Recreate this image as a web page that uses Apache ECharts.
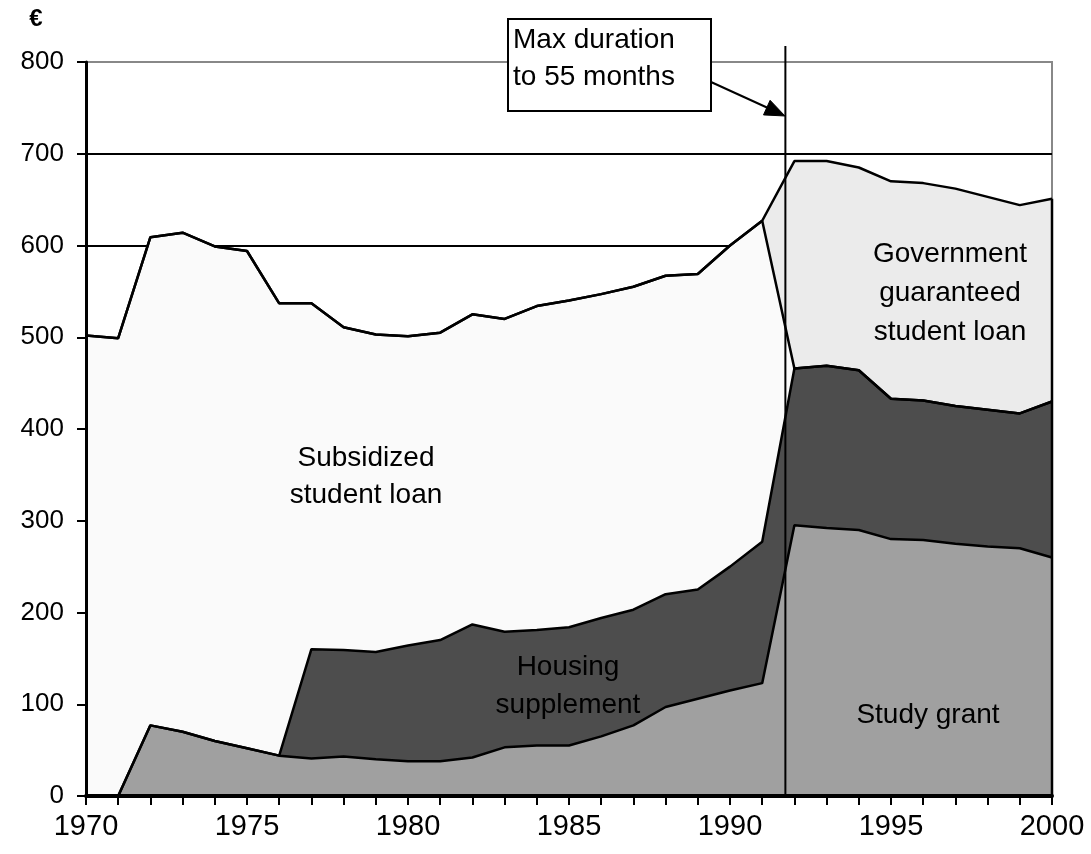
<!DOCTYPE html>
<html>
<head>
<meta charset="utf-8">
<script src="https://cdn.jsdelivr.net/npm/echarts@6/dist/echarts.min.js"></script>
<style>
html,body{margin:0;padding:0;background:#fff;}
#chart{width:1091px;height:854px;}
</style>
</head>
<body>
<div id="chart"></div>
<script>
// ---- Data (euros per month) ----
var years = [1970,1971,1972,1973,1974,1975,1976,1977,1978,1979,1980,1981,1982,1983,1984,1985,1986,1987,1988,1989,1990,1991,1992,1993,1994,1995,1996,1997,1998,1999,2000];
var studyGrant        = [0,0,77,70,60,52,44,41,43,40,38,38,42,53,55,55,65,77,97,106,115,123,295,292,290,280,279,275,272,270,260];
var housingSupplement = [0,0,0,0,0,0,0,119,116,117,126,132,145,126,126,129,129,126,123,119,135,154,171,177,174,153,152,150,149,147,170];
var subsidizedLoan    = [502,499,532,544,539,542,493,377,352,346,337,335,338,341,353,356,353,352,347,344,350,350,0,0,0,0,0,0,0,0,0];
var guaranteedLoan    = [0,0,0,0,0,0,0,0,0,0,0,0,0,0,0,0,0,0,0,0,0,0,226,223,221,237,237,237,232,227,221];
var yTicks = [0,100,200,300,400,500,600,700,800];
var policyChangeYear = 1991.72;

// cumulative tops (stack built from the component arrays, bottom to top)
var components = [studyGrant, housingSupplement, subsidizedLoan, guaranteedLoan];
var cumulative = [];
components.forEach(function(arr, k){
  cumulative.push(arr.map(function(v,i){ return v + (k>0 ? cumulative[k-1][i] : 0); }));
});
function pairs(vals){ return years.map(function(y,i){ return [y, vals[i]]; }); }
var lastIdx = years.length - 1;

var chart = echarts.init(document.getElementById('chart'));
var FONT = '"Liberation Sans", Arial, sans-serif';

function areaSeries(name, vals, color){
  return {
    name: name, type:'line', data: pairs(vals), yAxisIndex:0,
    symbol:'none', showSymbol:false, smooth:false,
    lineStyle:{color:'#000', width:2.5}, areaStyle:{color:color, opacity:1},
    itemStyle:{color:color}, silent:true, animation:false
  };
}

var splitColors = yTicks.map(function(v,i){ return i === yTicks.length-1 ? '#888' : '#000'; });

var option = {
  backgroundColor:'#fff',
  animation:false,
  grid:{left:86, right:39, top:62, bottom:58, show:true, borderColor:'#888', borderWidth:2, backgroundColor:'#fff'},
  xAxis:{
    type:'value', min:1970, max:2000, interval:5, z:10,
    axisLine:{show:true, onZero:false, lineStyle:{color:'#000', width:4}},
    axisTick:{show:true, length:9, lineStyle:{color:'#000', width:2}},
    minorTick:{show:true, splitNumber:5, length:9, lineStyle:{color:'#000', width:2}},
    splitLine:{show:false},
    axisLabel:{color:'#000', fontSize:29, fontFamily:FONT, margin:16, formatter:function(v){ return String(v); }}
  },
  yAxis:[{
    type:'value', min:0, max:800, interval:100, z:10, position:'left',
    axisLine:{show:true, onZero:false, lineStyle:{color:'#000', width:3}},
    axisTick:{show:true, length:9, lineStyle:{color:'#000', width:2}},
    splitLine:{show:false},
    axisLabel:{color:'#000', fontSize:26, fontFamily:FONT, margin:22}
  },{
    type:'value', min:0, max:800, interval:100, z:0, position:'left',
    axisLine:{show:false}, axisTick:{show:false}, axisLabel:{show:false},
    splitLine:{show:true, lineStyle:{color:splitColors, width:2}}
  }],
  // painted from the tallest stack level down so each opaque area covers the one below
  series:[
    areaSeries('Government guaranteed student loan', cumulative[3], '#ebebeb'),
    areaSeries('Subsidized student loan', cumulative[2], '#fafafa'),
    areaSeries('Housing supplement', cumulative[1], '#4d4d4d'),
    areaSeries('Study grant', cumulative[0], '#a0a0a0')
  ]
};
chart.setOption(option);

var xPolicy = chart.convertToPixel({xAxisIndex:0}, policyChangeYear);
var xEnd = chart.convertToPixel({xAxisIndex:0}, years[lastIdx]);
var yZero = chart.convertToPixel({yAxisIndex:0}, 0);
var yLastTop = chart.convertToPixel({yAxisIndex:0}, cumulative[3][lastIdx]);

chart.setOption({
  graphic:[
    {type:'line', shape:{x1:xPolicy, y1:46, x2:xPolicy, y2:yZero}, style:{stroke:'#000', lineWidth:2}, z:100},
    {type:'line', shape:{x1:xEnd, y1:yLastTop, x2:xEnd, y2:yZero}, style:{stroke:'#000', lineWidth:2.5}, z:100},
    {type:'text', x:36, y:19, z:101, style:{text:'€', font:'bold 24px '+FONT, fill:'#000', textAlign:'center', textVerticalAlign:'middle'}},
    {type:'rect', shape:{x:508, y:19, width:203, height:92}, style:{fill:'#fff', stroke:'#000', lineWidth:2}, z:100},
    {type:'text', x:513, y:40, z:101, style:{text:'Max duration', font:'28px '+FONT, fill:'#000', textAlign:'left', textVerticalAlign:'middle'}},
    {type:'text', x:513, y:77, z:101, style:{text:'to 55 months', font:'28px '+FONT, fill:'#000', textAlign:'left', textVerticalAlign:'middle'}},
    {type:'line', shape:{x1:711, y1:82, x2:768, y2:108}, style:{stroke:'#000', lineWidth:2}, z:101},
    {type:'polygon', shape:{points:[[785,116],[763.5,114.9],[770.1,100.3]]}, style:{fill:'#000', stroke:'#000'}, z:101},
    {type:'text', x:366, y:458, z:101, style:{text:'Subsidized', font:'28px '+FONT, fill:'#000', textAlign:'center', textVerticalAlign:'middle'}},
    {type:'text', x:366, y:495, z:101, style:{text:'student loan', font:'28px '+FONT, fill:'#000', textAlign:'center', textVerticalAlign:'middle'}},
    {type:'text', x:568, y:667, z:101, style:{text:'Housing', font:'28px '+FONT, fill:'#000', textAlign:'center', textVerticalAlign:'middle'}},
    {type:'text', x:568, y:705, z:101, style:{text:'supplement', font:'28px '+FONT, fill:'#000', textAlign:'center', textVerticalAlign:'middle'}},
    {type:'text', x:928, y:715, z:101, style:{text:'Study grant', font:'28px '+FONT, fill:'#000', textAlign:'center', textVerticalAlign:'middle'}},
    {type:'text', x:950, y:254, z:101, style:{text:'Government', font:'28px '+FONT, fill:'#000', textAlign:'center', textVerticalAlign:'middle'}},
    {type:'text', x:950, y:293, z:101, style:{text:'guaranteed', font:'28px '+FONT, fill:'#000', textAlign:'center', textVerticalAlign:'middle'}},
    {type:'text', x:950, y:332, z:101, style:{text:'student loan', font:'28px '+FONT, fill:'#000', textAlign:'center', textVerticalAlign:'middle'}}
  ]
});
</script>
</body>
</html>
